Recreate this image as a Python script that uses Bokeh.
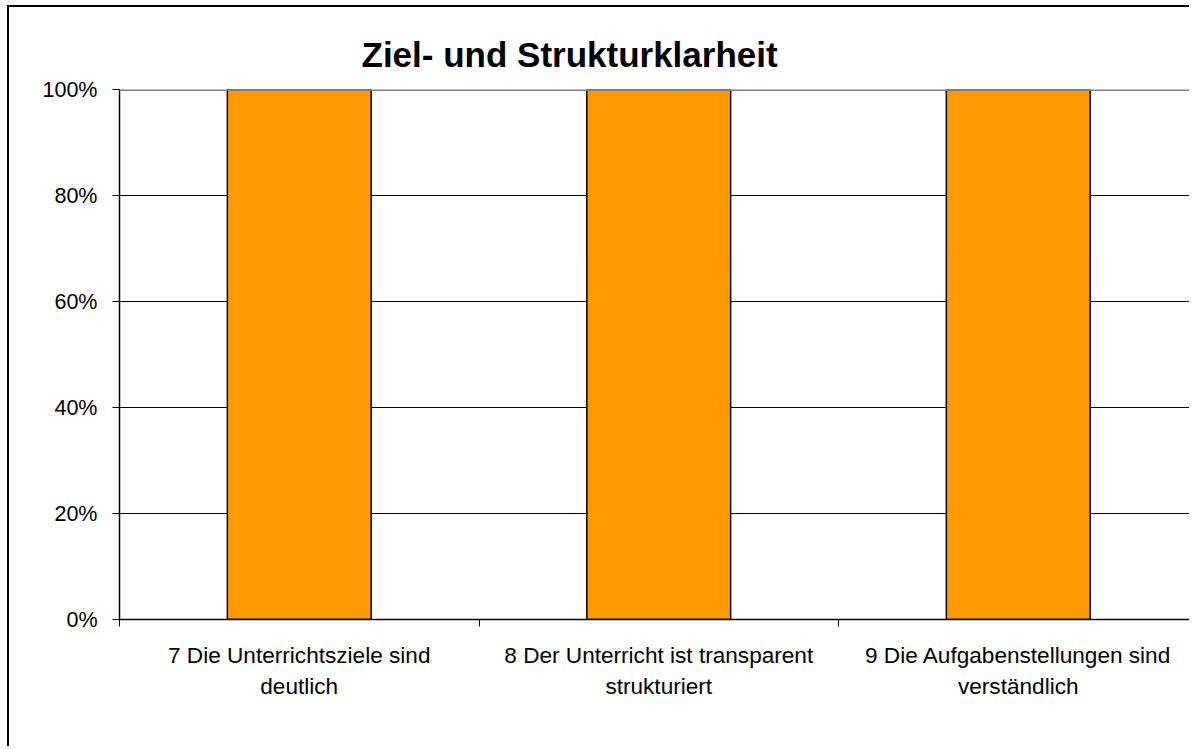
from bokeh.plotting import figure
from bokeh.models import FixedTicker, NumeralTickFormatter, Span, Range1d, Title
from bokeh.embed import file_html
from bokeh.resources import INLINE

# ---- data ----
categories = [
    "7 Die Unterrichtsziele sind\ndeutlich",
    "8 Der Unterricht ist transparent\nstrukturiert",
    "9 Die Aufgabenstellungen sind\nverständlich",
]
values = [1.0, 1.0, 1.0]
y_ticks = [0.0, 0.2, 0.4, 0.6, 0.8, 1.0]
title_text = "Ziel- und Strukturklarheit"

FONT = "Liberation Sans"

W, H = 1182, 741
frame_left = 110
p = figure(width=W, height=H, output_backend="svg", toolbar_location=None,
           x_range=Range1d(0, (W - frame_left) / 359.5), y_range=Range1d(0, 1),
           min_border_left=frame_left, min_border_right=0, min_border_top=82,
           min_border_bottom=H - 82 - 530)
p.styles = {"border-left": "2px solid black", "border-top": "2px solid black",
            "margin-left": "7px", "margin-top": "5px"}
p.outline_line_color = None
p.background_fill_color = "white"
p.border_fill_color = "white"

xs = [i + 0.5 for i in range(len(categories))]
p.vbar(x=xs, top=values, width=0.4, bottom=0, fill_color="#FF9900",
       line_color="black", line_width=1.5)

# title
t = Title(text=title_text, align="left", offset=242, text_font=FONT,
          text_font_size="35px", text_font_style="bold", text_color="black",
          standoff=32)
p.add_layout(t, "above")

# y axis
p.yaxis.ticker = FixedTicker(ticks=y_ticks)
p.yaxis.formatter = NumeralTickFormatter(format="0%")
p.yaxis.major_tick_out = 7
p.yaxis.major_tick_in = 0
p.yaxis.minor_tick_out = 0
p.yaxis.minor_tick_in = 0
p.yaxis.axis_line_color = "black"
p.yaxis.axis_line_width = 1.5
p.yaxis.major_tick_line_color = "black"
p.yaxis.major_label_text_font = FONT
p.yaxis.major_label_text_font_size = "21.5px"
p.yaxis.major_label_text_color = "black"
p.yaxis.major_label_standoff = 15

# x axis
p.xaxis.ticker = FixedTicker(ticks=xs, minor_ticks=list(range(len(categories) + 1)))
p.xaxis.major_label_overrides = {x: c for x, c in zip(xs, categories)}
p.xaxis.major_tick_out = 0
p.xaxis.major_tick_in = 0
p.xaxis.minor_tick_out = 7
p.xaxis.minor_tick_in = 0
p.xaxis.minor_tick_line_color = "black"
p.xaxis.axis_line_color = "black"
p.xaxis.axis_line_width = 1.5
p.xaxis.major_label_text_font = FONT
p.xaxis.major_label_text_font_size = "22.6px"
p.xaxis.major_label_text_color = "black"
p.xaxis.major_label_text_line_height = 1.27
p.xaxis.major_label_standoff = 16

# grid
p.xgrid.grid_line_color = None
p.ygrid.ticker = FixedTicker(ticks=y_ticks)
p.ygrid.grid_line_color = "black"
p.ygrid.grid_line_width = 1.2
p.add_layout(Span(location=1.0, dimension="width", line_color="#808080", line_width=3))

open("out.html", "w").write(file_html(p, INLINE))
